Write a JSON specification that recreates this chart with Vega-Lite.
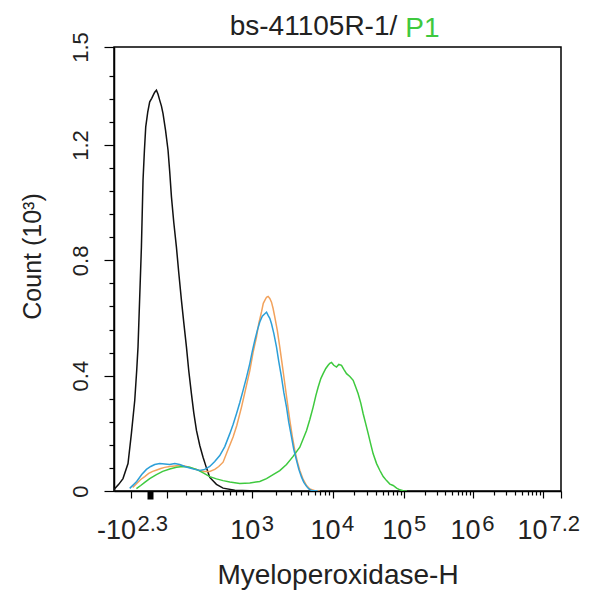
{
  "$schema": "https://vega.github.io/schema/vega-lite/v6.json",
  "width": 447,
  "height": 444,
  "autosize": {"type": "none"},
  "padding": {"left": 114, "top": 47, "right": 28, "bottom": 101},
  "background": "white",
  "config": {"view": {"stroke": "black", "strokeWidth": 1.5}, "font": "Liberation Sans", "axis": {"labelOverlap": false, "labelFlush": false, "labelBound": false}},
  "title": {"text": "bs-41105R-1/", "fontSize": 28, "fontWeight": "normal", "color": "#222222", "anchor": "middle", "dx": -24, "offset": -48, "baseline": "alphabetic"},
  "datasets": {
    "hist": [
      {"series": "Blank control", "channel": 0.5, "count": 0},
      {"series": "Blank control", "channel": 1.6, "count": 0.008},
      {"series": "Blank control", "channel": 10.8, "count": 0.023},
      {"series": "Blank control", "channel": 20.6, "count": 0.043},
      {"series": "Blank control", "channel": 32.1, "count": 0.095},
      {"series": "Blank control", "channel": 39.9, "count": 0.2},
      {"series": "Blank control", "channel": 47.5, "count": 0.314},
      {"series": "Blank control", "channel": 52.0, "count": 0.418},
      {"series": "Blank control", "channel": 55.0, "count": 0.499},
      {"series": "Blank control", "channel": 58.9, "count": 0.673},
      {"series": "Blank control", "channel": 62.8, "count": 0.846},
      {"series": "Blank control", "channel": 66.5, "count": 1.078},
      {"series": "Blank control", "channel": 69.7, "count": 1.182},
      {"series": "Blank control", "channel": 72.7, "count": 1.263},
      {"series": "Blank control", "channel": 77.3, "count": 1.314},
      {"series": "Blank control", "channel": 81.8, "count": 1.35},
      {"series": "Blank control", "channel": 86.4, "count": 1.362},
      {"series": "Blank control", "channel": 89.9, "count": 1.373},
      {"series": "Blank control", "channel": 93.3, "count": 1.383},
      {"series": "Blank control", "channel": 97.2, "count": 1.39},
      {"series": "Blank control", "channel": 100.9, "count": 1.376},
      {"series": "Blank control", "channel": 104.8, "count": 1.355},
      {"series": "Blank control", "channel": 108.7, "count": 1.335},
      {"series": "Blank control", "channel": 112.3, "count": 1.309},
      {"series": "Blank control", "channel": 118.1, "count": 1.251},
      {"series": "Blank control", "channel": 123.8, "count": 1.182},
      {"series": "Blank control", "channel": 127.7, "count": 1.106},
      {"series": "Blank control", "channel": 131.6, "count": 1.02},
      {"series": "Blank control", "channel": 136.9, "count": 0.932},
      {"series": "Blank control", "channel": 143.0, "count": 0.846},
      {"series": "Blank control", "channel": 148.3, "count": 0.758},
      {"series": "Blank control", "channel": 154.5, "count": 0.661},
      {"series": "Blank control", "channel": 159.8, "count": 0.585},
      {"series": "Blank control", "channel": 166.0, "count": 0.499},
      {"series": "Blank control", "channel": 171.2, "count": 0.418},
      {"series": "Blank control", "channel": 177.4, "count": 0.337},
      {"series": "Blank control", "channel": 182.7, "count": 0.272},
      {"series": "Blank control", "channel": 188.9, "count": 0.21},
      {"series": "Blank control", "channel": 196.5, "count": 0.158},
      {"series": "Blank control", "channel": 204.0, "count": 0.117},
      {"series": "Blank control", "channel": 211.4, "count": 0.082},
      {"series": "Blank control", "channel": 219.4, "count": 0.047},
      {"series": "Blank control", "channel": 234.7, "count": 0.023},
      {"series": "Blank control", "channel": 249.9, "count": 0.01},
      {"series": "Blank control", "channel": 276.7, "count": 0.003},
      {"series": "Blank control", "channel": 311.1, "count": 0.001},
      {"series": "Blank control", "channel": 334.0, "count": 0},

      {"series": "Isotype control", "channel": 42.9, "count": 0.012},
      {"series": "Isotype control", "channel": 52.0, "count": 0.026},
      {"series": "Isotype control", "channel": 61.2, "count": 0.04},
      {"series": "Isotype control", "channel": 70.4, "count": 0.05},
      {"series": "Isotype control", "channel": 79.5, "count": 0.061},
      {"series": "Isotype control", "channel": 88.7, "count": 0.068},
      {"series": "Isotype control", "channel": 97.9, "count": 0.073},
      {"series": "Isotype control", "channel": 107.1, "count": 0.078},
      {"series": "Isotype control", "channel": 116.2, "count": 0.082},
      {"series": "Isotype control", "channel": 127.7, "count": 0.085},
      {"series": "Isotype control", "channel": 139.2, "count": 0.087},
      {"series": "Isotype control", "channel": 150.6, "count": 0.089},
      {"series": "Isotype control", "channel": 162.1, "count": 0.087},
      {"series": "Isotype control", "channel": 173.5, "count": 0.082},
      {"series": "Isotype control", "channel": 185.0, "count": 0.076},
      {"series": "Isotype control", "channel": 196.5, "count": 0.071},
      {"series": "Isotype control", "channel": 207.9, "count": 0.068},
      {"series": "Isotype control", "channel": 219.4, "count": 0.068},
      {"series": "Isotype control", "channel": 230.8, "count": 0.075},
      {"series": "Isotype control", "channel": 240.0, "count": 0.085},
      {"series": "Isotype control", "channel": 249.9, "count": 0.1},
      {"series": "Isotype control", "channel": 260.6, "count": 0.141},
      {"series": "Isotype control", "channel": 272.8, "count": 0.187},
      {"series": "Isotype control", "channel": 281.3, "count": 0.227},
      {"series": "Isotype control", "channel": 292.1, "count": 0.291},
      {"series": "Isotype control", "channel": 301.9, "count": 0.356},
      {"series": "Isotype control", "channel": 311.1, "count": 0.418},
      {"series": "Isotype control", "channel": 318.6, "count": 0.481},
      {"series": "Isotype control", "channel": 326.4, "count": 0.534},
      {"series": "Isotype control", "channel": 331.7, "count": 0.581},
      {"series": "Isotype control", "channel": 337.9, "count": 0.621},
      {"series": "Isotype control", "channel": 342.0, "count": 0.651},
      {"series": "Isotype control", "channel": 345.5, "count": 0.661},
      {"series": "Isotype control", "channel": 349.4, "count": 0.672},
      {"series": "Isotype control", "channel": 353.0, "count": 0.675},
      {"series": "Isotype control", "channel": 356.9, "count": 0.668},
      {"series": "Isotype control", "channel": 360.8, "count": 0.655},
      {"series": "Isotype control", "channel": 364.5, "count": 0.633},
      {"series": "Isotype control", "channel": 368.4, "count": 0.603},
      {"series": "Isotype control", "channel": 374.1, "count": 0.557},
      {"series": "Isotype control", "channel": 379.8, "count": 0.499},
      {"series": "Isotype control", "channel": 385.6, "count": 0.436},
      {"series": "Isotype control", "channel": 391.3, "count": 0.372},
      {"series": "Isotype control", "channel": 397.1, "count": 0.307},
      {"series": "Isotype control", "channel": 402.8, "count": 0.245},
      {"series": "Isotype control", "channel": 408.5, "count": 0.189},
      {"series": "Isotype control", "channel": 414.2, "count": 0.141},
      {"series": "Isotype control", "channel": 420.0, "count": 0.102},
      {"series": "Isotype control", "channel": 425.7, "count": 0.071},
      {"series": "Isotype control", "channel": 433.3, "count": 0.04},
      {"series": "Isotype control", "channel": 441.1, "count": 0.019},
      {"series": "Isotype control", "channel": 448.6, "count": 0.007},
      {"series": "Isotype control", "channel": 460.1, "count": 0.001},
      {"series": "Isotype control", "channel": 471.6, "count": 0},

      {"series": "Myeloperoxidase antibody", "channel": 51.4, "count": 0.008},
      {"series": "Myeloperoxidase antibody", "channel": 61.2, "count": 0.019},
      {"series": "Myeloperoxidase antibody", "channel": 70.4, "count": 0.03},
      {"series": "Myeloperoxidase antibody", "channel": 81.8, "count": 0.043},
      {"series": "Myeloperoxidase antibody", "channel": 97.2, "count": 0.057},
      {"series": "Myeloperoxidase antibody", "channel": 111.6, "count": 0.068},
      {"series": "Myeloperoxidase antibody", "channel": 127.7, "count": 0.076},
      {"series": "Myeloperoxidase antibody", "channel": 143.0, "count": 0.082},
      {"series": "Myeloperoxidase antibody", "channel": 157.5, "count": 0.085},
      {"series": "Myeloperoxidase antibody", "channel": 173.5, "count": 0.082},
      {"series": "Myeloperoxidase antibody", "channel": 188.9, "count": 0.075},
      {"series": "Myeloperoxidase antibody", "channel": 203.3, "count": 0.064},
      {"series": "Myeloperoxidase antibody", "channel": 219.4, "count": 0.05},
      {"series": "Myeloperoxidase antibody", "channel": 234.7, "count": 0.042},
      {"series": "Myeloperoxidase antibody", "channel": 249.9, "count": 0.036},
      {"series": "Myeloperoxidase antibody", "channel": 265.3, "count": 0.031},
      {"series": "Myeloperoxidase antibody", "channel": 288.2, "count": 0.026},
      {"series": "Myeloperoxidase antibody", "channel": 311.1, "count": 0.028},
      {"series": "Myeloperoxidase antibody", "channel": 334.0, "count": 0.033},
      {"series": "Myeloperoxidase antibody", "channel": 349.4, "count": 0.043},
      {"series": "Myeloperoxidase antibody", "channel": 364.5, "count": 0.057},
      {"series": "Myeloperoxidase antibody", "channel": 379.8, "count": 0.071},
      {"series": "Myeloperoxidase antibody", "channel": 395.2, "count": 0.092},
      {"series": "Myeloperoxidase antibody", "channel": 410.3, "count": 0.12},
      {"series": "Myeloperoxidase antibody", "channel": 425.7, "count": 0.152},
      {"series": "Myeloperoxidase antibody", "channel": 441.1, "count": 0.21},
      {"series": "Myeloperoxidase antibody", "channel": 448.6, "count": 0.248},
      {"series": "Myeloperoxidase antibody", "channel": 456.2, "count": 0.291},
      {"series": "Myeloperoxidase antibody", "channel": 462.4, "count": 0.331},
      {"series": "Myeloperoxidase antibody", "channel": 467.6, "count": 0.36},
      {"series": "Myeloperoxidase antibody", "channel": 473.8, "count": 0.39},
      {"series": "Myeloperoxidase antibody", "channel": 479.1, "count": 0.407},
      {"series": "Myeloperoxidase antibody", "channel": 485.2, "count": 0.425},
      {"series": "Myeloperoxidase antibody", "channel": 490.5, "count": 0.436},
      {"series": "Myeloperoxidase antibody", "channel": 494.4, "count": 0.443},
      {"series": "Myeloperoxidase antibody", "channel": 498.3, "count": 0.446},
      {"series": "Myeloperoxidase antibody", "channel": 503.5, "count": 0.436},
      {"series": "Myeloperoxidase antibody", "channel": 509.7, "count": 0.43},
      {"series": "Myeloperoxidase antibody", "channel": 515.0, "count": 0.439},
      {"series": "Myeloperoxidase antibody", "channel": 521.2, "count": 0.436},
      {"series": "Myeloperoxidase antibody", "channel": 526.5, "count": 0.422},
      {"series": "Myeloperoxidase antibody", "channel": 532.7, "count": 0.407},
      {"series": "Myeloperoxidase antibody", "channel": 540.3, "count": 0.397},
      {"series": "Myeloperoxidase antibody", "channel": 547.9, "count": 0.384},
      {"series": "Myeloperoxidase antibody", "channel": 554.1, "count": 0.359},
      {"series": "Myeloperoxidase antibody", "channel": 559.3, "count": 0.337},
      {"series": "Myeloperoxidase antibody", "channel": 565.5, "count": 0.304},
      {"series": "Myeloperoxidase antibody", "channel": 570.8, "count": 0.268},
      {"series": "Myeloperoxidase antibody", "channel": 577.0, "count": 0.231},
      {"series": "Myeloperoxidase antibody", "channel": 582.3, "count": 0.199},
      {"series": "Myeloperoxidase antibody", "channel": 588.4, "count": 0.161},
      {"series": "Myeloperoxidase antibody", "channel": 593.7, "count": 0.129},
      {"series": "Myeloperoxidase antibody", "channel": 601.5, "count": 0.095},
      {"series": "Myeloperoxidase antibody", "channel": 609.1, "count": 0.071},
      {"series": "Myeloperoxidase antibody", "channel": 616.7, "count": 0.05},
      {"series": "Myeloperoxidase antibody", "channel": 624.4, "count": 0.036},
      {"series": "Myeloperoxidase antibody", "channel": 632.0, "count": 0.024},
      {"series": "Myeloperoxidase antibody", "channel": 639.6, "count": 0.019},
      {"series": "Myeloperoxidase antibody", "channel": 647.4, "count": 0.01},
      {"series": "Myeloperoxidase antibody", "channel": 654.9, "count": 0.004},
      {"series": "Myeloperoxidase antibody", "channel": 662.5, "count": 0.001},
      {"series": "Myeloperoxidase antibody", "channel": 671.0, "count": 0},

      {"series": "Secondary antibody", "channel": 36.0, "count": 0.009},
      {"series": "Secondary antibody", "channel": 52.0, "count": 0.033},
      {"series": "Secondary antibody", "channel": 63.5, "count": 0.057},
      {"series": "Secondary antibody", "channel": 74.3, "count": 0.075},
      {"series": "Secondary antibody", "channel": 84.1, "count": 0.085},
      {"series": "Secondary antibody", "channel": 93.3, "count": 0.092},
      {"series": "Secondary antibody", "channel": 104.8, "count": 0.095},
      {"series": "Secondary antibody", "channel": 116.2, "count": 0.094},
      {"series": "Secondary antibody", "channel": 127.7, "count": 0.092},
      {"series": "Secondary antibody", "channel": 139.2, "count": 0.095},
      {"series": "Secondary antibody", "channel": 150.6, "count": 0.092},
      {"series": "Secondary antibody", "channel": 162.1, "count": 0.085},
      {"series": "Secondary antibody", "channel": 173.5, "count": 0.08},
      {"series": "Secondary antibody", "channel": 185.0, "count": 0.075},
      {"series": "Secondary antibody", "channel": 196.5, "count": 0.071},
      {"series": "Secondary antibody", "channel": 207.9, "count": 0.075},
      {"series": "Secondary antibody", "channel": 219.4, "count": 0.085},
      {"series": "Secondary antibody", "channel": 230.8, "count": 0.102},
      {"series": "Secondary antibody", "channel": 242.3, "count": 0.123},
      {"series": "Secondary antibody", "channel": 253.8, "count": 0.154},
      {"series": "Secondary antibody", "channel": 265.3, "count": 0.199},
      {"series": "Secondary antibody", "channel": 272.8, "count": 0.231},
      {"series": "Secondary antibody", "channel": 280.6, "count": 0.268},
      {"series": "Secondary antibody", "channel": 288.2, "count": 0.307},
      {"series": "Secondary antibody", "channel": 295.7, "count": 0.349},
      {"series": "Secondary antibody", "channel": 303.5, "count": 0.394},
      {"series": "Secondary antibody", "channel": 311.1, "count": 0.442},
      {"series": "Secondary antibody", "channel": 316.8, "count": 0.484},
      {"series": "Secondary antibody", "channel": 322.5, "count": 0.522},
      {"series": "Secondary antibody", "channel": 328.3, "count": 0.557},
      {"series": "Secondary antibody", "channel": 334.0, "count": 0.586},
      {"series": "Secondary antibody", "channel": 339.7, "count": 0.606},
      {"series": "Secondary antibody", "channel": 345.5, "count": 0.615},
      {"series": "Secondary antibody", "channel": 349.4, "count": 0.62},
      {"series": "Secondary antibody", "channel": 353.0, "count": 0.609},
      {"series": "Secondary antibody", "channel": 356.9, "count": 0.599},
      {"series": "Secondary antibody", "channel": 360.8, "count": 0.58},
      {"series": "Secondary antibody", "channel": 366.1, "count": 0.547},
      {"series": "Secondary antibody", "channel": 372.3, "count": 0.499},
      {"series": "Secondary antibody", "channel": 377.5, "count": 0.449},
      {"series": "Secondary antibody", "channel": 383.7, "count": 0.395},
      {"series": "Secondary antibody", "channel": 389.0, "count": 0.342},
      {"series": "Secondary antibody", "channel": 395.2, "count": 0.291},
      {"series": "Secondary antibody", "channel": 400.4, "count": 0.238},
      {"series": "Secondary antibody", "channel": 406.7, "count": 0.187},
      {"series": "Secondary antibody", "channel": 411.9, "count": 0.144},
      {"series": "Secondary antibody", "channel": 418.1, "count": 0.106},
      {"series": "Secondary antibody", "channel": 423.4, "count": 0.075},
      {"series": "Secondary antibody", "channel": 429.6, "count": 0.048},
      {"series": "Secondary antibody", "channel": 434.9, "count": 0.03},
      {"series": "Secondary antibody", "channel": 441.1, "count": 0.016},
      {"series": "Secondary antibody", "channel": 446.3, "count": 0.007},
      {"series": "Secondary antibody", "channel": 452.5, "count": 0.002},
      {"series": "Secondary antibody", "channel": 467.0, "count": 0}
    ]
  },
  "layer": [
    {
      "data": {"name": "hist"},
      "mark": {"type": "line", "strokeWidth": 1.5, "clip": true},
      "encoding": {
        "x": {
          "field": "channel",
          "type": "quantitative",
          "scale": {"domain": [0, 1024], "nice": false, "zero": false},
          "axis": {
            "orient": "bottom",
            "title": "Myeloperoxidase-H",
            "titleFontSize": 28,
            "titleFontWeight": "normal",
            "titleColor": "#222222",
            "titlePadding": 17,
            "grid": false,
            "values": [39.9, 81.8, 122.4, 166.0, 200.4, 226.3, 249.2, 265.3, 280.6, 295.1, 316.8, 372.1, 404.5, 427.5, 445.3, 459.8, 472.1, 482.8, 492.1, 500.6, 550.1, 579.1, 599.7, 615.7, 628.7, 639.7, 649.2, 657.6, 665.2, 712.3, 739.8, 759.4, 774.5, 786.9, 797.4, 806.4, 814.4, 821.6, 870.3, 898.8, 919.0, 934.7, 947.5, 958.3, 967.7, 976.0, 983.4, 1024],
            "labelExpr": "datum.value == 39.9 ? '-10' : (datum.value == 316.8 || datum.value == 500.6 || datum.value == 665.2 || datum.value == 821.6 || datum.value == 1024) ? '10' : ''",
            "labelFontSize": 27,
            "labelColor": "#222222",
            "labelAlign": "right",
            "labelBaseline": "alphabetic",
            "labelPadding": 40,
            "labelFlush": false,
            "labelOverlap": false,
            "labelBound": false,
            "labelOffset": {"condition": [{"test": "datum.value == 1024", "value": -14}, {"test": "datum.value == 39.9", "value": 4}], "value": 7.5},
            "tickSize": {"condition": [{"test": "datum.value == 81.8", "value": 8}, {"test": "indexof([39.9, 122.4, 316.8, 500.6, 665.2, 821.6, 983.4, 1024], datum.value) >= 0", "value": 7}], "value": 4},
            "tickWidth": {"condition": {"test": "datum.value == 81.8", "value": 6}, "value": 1.2},
            "tickColor": "black",
            "domainColor": "black",
            "domainWidth": 1.5
          }
        },
        "y": {
          "field": "count",
          "type": "quantitative",
          "scale": {"domain": [0, 1.54], "nice": false},
          "axis": {
            "orient": "left",
            "title": "Count (10³)",
            "titleFontSize": 25,
            "titleFontWeight": "normal",
            "titleColor": "#222222",
            "titlePadding": 24,
            "titleY": 209,
            "grid": false,
            "values": [0, 0.4, 0.8, 1.2, 1.54],
            "labelExpr": "datum.value == 1.54 ? '1.5' : format(datum.value, '.1~f')",
            "labelAngle": 270,
            "labelAlign": "center",
            "labelBaseline": "bottom",
            "labelFontSize": 22,
            "labelColor": "#222222",
            "labelPadding": 12,
            "labelOverlap": false,
            "labelFlush": false,
            "labelBound": false,
            "tickSize": 10,
            "tickColor": "black",
            "tickWidth": 1.2,
            "domainColor": "black",
            "domainWidth": 1.5
          }
        },
        "color": {
          "field": "series",
          "type": "nominal",
          "scale": {
            "domain": ["Blank control", "Isotype control", "Myeloperoxidase antibody", "Secondary antibody"],
            "range": ["#111111", "#f2a25c", "#3ec93e", "#2c9fd8"]
          },
          "legend": null
        }
      }
    },
    {
      "data": {"values": [{"label": "P1"}]},
      "mark": {"type": "text", "fontSize": 28, "color": "#3ec93e", "align": "center", "baseline": "alphabetic", "dy": -10},
      "encoding": {
        "text": {"field": "label", "type": "nominal"},
        "x": {
          "datum": 706.7,
          "type": "quantitative",
          "axis": {
            "orient": "bottom",
            "title": null,
            "domain": false,
            "ticks": false,
            "tickSize": 0,
            "grid": false,
            "values": [39.9, 316.8, 500.6, 665.2, 821.6, 1024],
            "labelExpr": "datum.value == 39.9 ? '2.3' : datum.value == 316.8 ? '3' : datum.value == 500.6 ? '4' : datum.value == 665.2 ? '5' : datum.value == 821.6 ? '6' : datum.value == 1024 ? '7.2' : ''",
            "labelFontSize": 22,
            "labelColor": "#222222",
            "labelAlign": "left",
            "labelBaseline": "alphabetic",
            "labelPadding": 39,
            "labelFlush": false,
            "labelOverlap": false,
            "labelBound": false,
            "labelOffset": {"condition": [{"test": "datum.value == 1024", "value": -12}, {"test": "datum.value == 39.9", "value": 5.5}], "value": 9}
          }
        },
        "y": {
          "datum": 1.54,
          "type": "quantitative",
          "axis": {
            "orient": "left",
            "title": null,
            "domain": false,
            "labels": false,
            "grid": false,
            "values": [0.08, 0.16, 0.24, 0.32, 0.48, 0.56, 0.64, 0.72, 0.88, 0.96, 1.04, 1.12, 1.28, 1.36, 1.44],
            "tickSize": 5,
            "tickColor": "black",
            "tickWidth": 1.2
          }
        }
      }
    }
  ],
  "resolve": {"axis": {"x": "independent", "y": "independent"}}
}
